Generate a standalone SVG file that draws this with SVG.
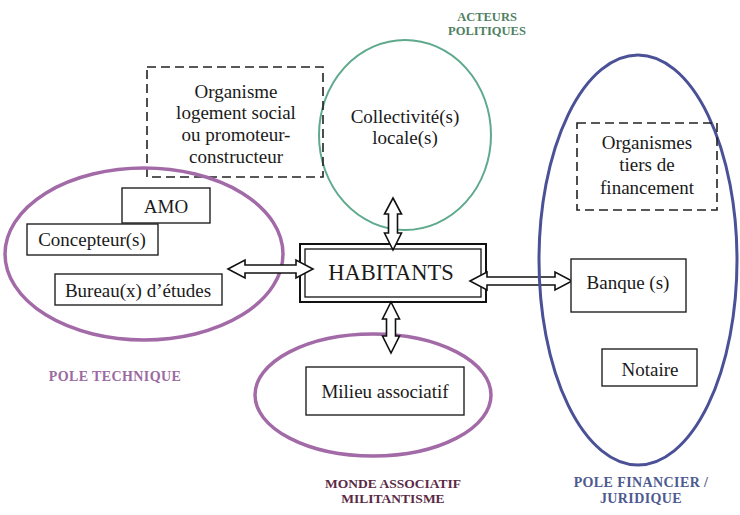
<svg xmlns="http://www.w3.org/2000/svg" width="740" height="515" viewBox="0 0 740 515" font-family="'Liberation Serif', 'Times New Roman', Times, serif">
<style>
text{font-family:'Liberation Serif', 'Times New Roman', Times, serif}
.t{font-size:19px;fill:#1a1a1a;text-anchor:middle}
.lab{font-weight:bold;text-anchor:middle}
.box{fill:#fff;stroke:#222;stroke-width:1.4}
.dash{fill:none;stroke:#222;stroke-width:1.6;stroke-dasharray:9 5}
.arrow{fill:#fff;stroke:#111;stroke-width:1.6;stroke-linejoin:miter}
</style>
<rect width="740" height="515" fill="#fff"/>

<g id="acteurs-politiques">
<ellipse cx="405" cy="135" rx="86" ry="95" fill="none" stroke="#5fa98c" stroke-width="2"/>
<text class="t" x="405" y="123">Collectivité(s)</text>
<text class="t" x="405" y="144">locale(s)</text>
<text class="lab" x="487" y="21" font-size="12.5" fill="#4f7f62">ACTEURS</text>
<text class="lab" x="487" y="35" font-size="12.5" fill="#4f7f62">POLITIQUES</text>
</g>

<g id="organisme-logement">
<rect class="dash" x="147" y="67" width="176" height="110"/>
<text class="t" x="236" y="98">Organisme</text>
<text class="t" x="236" y="119">logement social</text>
<text class="t" x="236" y="141">ou promoteur-</text>
<text class="t" x="236" y="163">constructeur</text>
</g>

<g id="pole-technique">
<ellipse cx="144" cy="254" rx="139" ry="86" fill="none" stroke="#a36aa8" stroke-width="3.5"/>
<rect class="box" x="122" y="188" width="88" height="35"/>
<text class="t" x="166" y="213">AMO</text>
<rect class="box" x="27" y="224" width="131" height="31"/>
<text class="t" x="92" y="246">Concepteur(s)</text>
<rect class="box" x="55" y="274" width="167" height="31"/>
<text class="t" x="138" y="297">Bureau(x) d’études</text>
<text class="lab" x="115" y="381" font-size="14" letter-spacing="0.4" fill="#9a6aa0">POLE TECHNIQUE</text>
</g>

<g id="monde-associatif">
<ellipse cx="373" cy="395" rx="118" ry="61" fill="none" stroke="#a36aa8" stroke-width="3.5"/>
<rect class="box" x="306" y="367" width="158" height="48"/>
<text class="t" x="385" y="398">Milieu associatif</text>
<text class="lab" x="393" y="488" font-size="13.5" fill="#5a2a45">MONDE ASSOCIATIF</text>
<text class="lab" x="393" y="503" font-size="13.5" fill="#5a2a45">MILITANTISME</text>
</g>

<g id="habitants">
<rect x="300" y="244" width="186" height="58" fill="#fff" stroke="#111" stroke-width="2"/>
<rect x="305" y="249" width="176" height="48" fill="none" stroke="#111" stroke-width="1.3"/>
<text class="t" x="391" y="280" font-size="22.5" style="font-size:22.5px">HABITANTS</text>
</g>

<g id="connectors">
<path class="arrow" d="M228,269 L245,260 L245,265 L296,265 L296,260 L313,269 L296,278 L296,273 L245,273 L245,278 Z"/>
<path class="arrow" d="M470,281 L487,272 L487,277 L555,277 L555,272 L572,281 L555,290 L555,285 L487,285 L487,290 Z"/>
<path class="arrow" d="M393,198 L401.5,214 L397.5,214 L397.5,233 L401.5,233 L393,250 L384.5,233 L388.5,233 L388.5,214 L384.5,214 Z"/>
<path class="arrow" d="M391,302 L399.5,319 L395.5,319 L395.5,336 L399.5,336 L391,353 L382.5,336 L386.5,336 L386.5,319 L382.5,319 Z"/>
</g>

<g id="pole-financier">
<ellipse cx="638" cy="260" rx="99" ry="205" fill="none" stroke="#4b5196" stroke-width="3"/>
<rect class="dash" x="577" y="123" width="140" height="87"/>
<text class="t" x="647" y="149">Organismes</text>
<text class="t" x="647" y="171">tiers de</text>
<text class="t" x="647" y="194">financement</text>
<rect class="box" x="571" y="259" width="115" height="53"/>
<text class="t" x="628" y="289">Banque (s)</text>
<rect class="box" x="602" y="349" width="95" height="37"/>
<text class="t" x="650" y="376">Notaire</text>
<text class="lab" x="641" y="487" font-size="14" letter-spacing="0.4" fill="#4d5a8f">POLE FINANCIER /</text>
<text class="lab" x="641" y="503" font-size="14" letter-spacing="0.4" fill="#4d5a8f">JURIDIQUE</text>
</g>
</svg>
